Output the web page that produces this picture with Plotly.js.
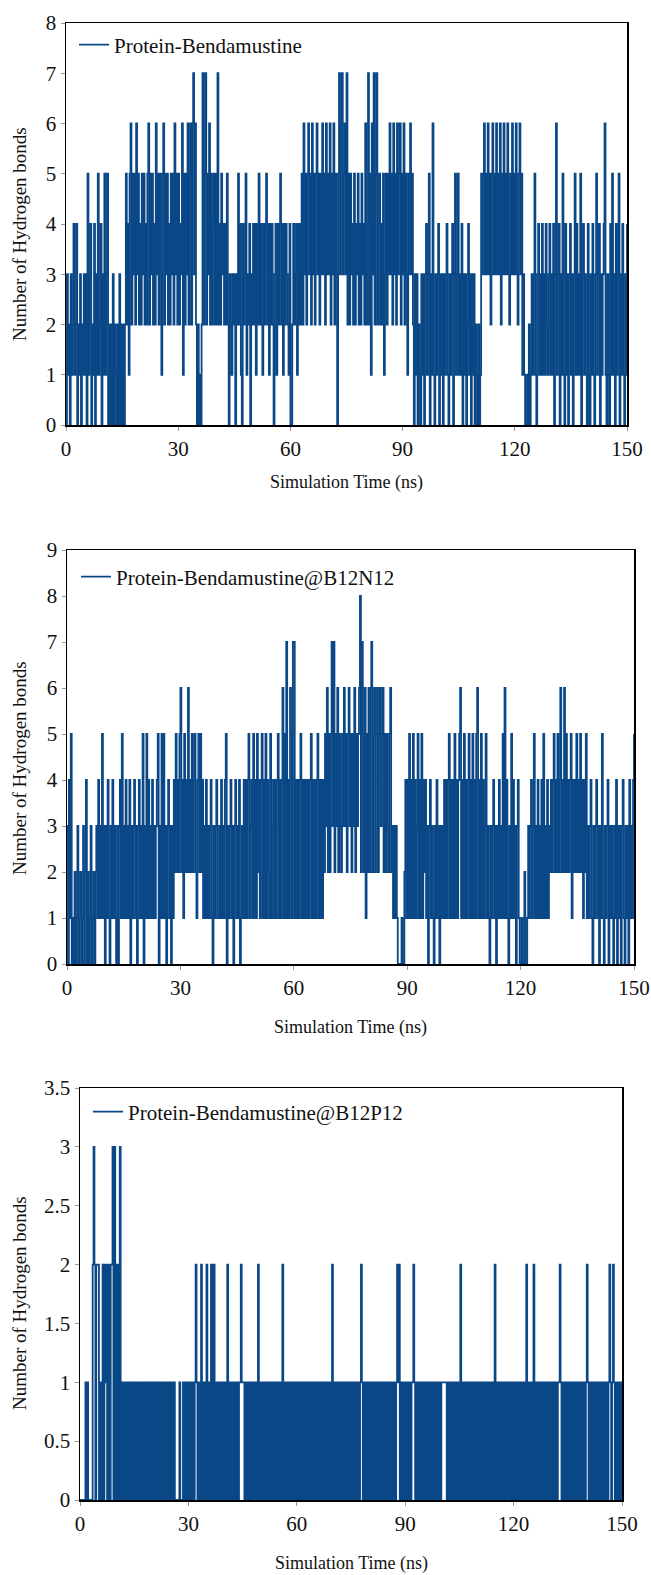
<!DOCTYPE html>
<html>
<head>
<meta charset="utf-8">
<script src="https://cdn.plot.ly/plotly-3.0.1.min.js"></script>
<style>html,body{margin:0;padding:0;background:#fff;}#chart{width:651px;height:1575px;}</style>
</head>
<body>
<div id="chart"></div>
<script>
// Sampling step of the hydrogen-bond trajectories (ns)
const TIME_STEP_NS = 0.25;
const xTickVals = [0, 30, 60, 90, 120, 150];
const seriesNames = ["Protein-Bendamustine", "Protein-Bendamustine@B12N12", "Protein-Bendamustine@B12P12"];

// Panel 1: Protein-Bendamustine (0-49.75 ns, 50-99.75 ns, 100-150 ns)
const hb1_a = [0,3,1,2,0,3,1,2,4,1,2,4,0,2,1,3,0,2,1,3, 1,3,0,5,1,3,4,0,2,1,4,0,3,1,5,1,2,4,0,3, 1,5,1,3,5,0,2,0,2,0,3,0,2,1,0,2,0,3,0,2, 0,2,0,2,5,2,4,1,5,6,2,5,3,5,2,6,3,5,2,4, 2,5,3,5,2,4,2,5,6,2,5,3,5,2,4,2,6,3,5,2,
  5,3,1,5,6,2,5,3,5,2,4,2,5,3,5,2,6,3,5,2, 5,2,4,3,6,1,5,2,5,3,6,2,5,6,2,6,7,3,6,2, 0,2,0,1,0,2,7,2,5,7,2,5,3,6,2,5,2,4,5,2, 5,2,7,2,4,2,5,3,4,2,4,2,5,2,0,3,2,1,3,2, 3,0,3,2,5,2,4,1,0,4,2,3,5,1,3,2,4,0,3,2];
const hb1_b = [4,2,4,1,4,2,5,2,4,2,1,4,2,4,5,2,4,1,4,2, 4,2,0,3,4,1,4,2,4,5,2,4,1,4,2,4,3,2,1,4, 0,0,2,4,2,3,4,1,4,2,4,2,5,2,6,3,5,2,5,6, 3,5,2,6,3,5,2,5,6,3,5,2,5,3,6,3,5,2,6,3, 5,3,6,2,5,3,6,2,5,3,0,5,7,3,6,7,3,5,6,3,
  7,2,5,2,5,3,4,2,5,2,4,3,5,2,4,2,5,3,4,2, 6,2,4,7,2,5,1,6,3,7,2,5,7,2,4,5,2,4,2,5, 1,3,5,2,5,3,6,3,5,2,6,3,5,2,6,3,5,6,2,5, 3,6,2,5,3,1,5,3,6,3,5,2,0,3,1,3,0,2,1,0, 3,1,3,0,3,4,1,3,5,0,3,1,6,1,0,3,1,3,4,0];
const hb1_c = [3,1,3,0,3,1,3,4,1,0,3,1,3,4,0,3,5,1,3,5, 1,3,1,4,0,3,1,3,0,2,4,1,3,0,3,1,3,0,2,1, 0,2,0,1,5,3,5,6,3,5,3,6,3,5,2,5,6,3,5,3, 6,3,5,3,6,2,5,3,6,3,5,3,6,3,2,5,3,6,3,5, 3,6,3,2,5,6,3,5,1,3,1,0,0,1,0,2,0,1,3,1,
  3,5,1,0,3,4,1,3,1,4,1,3,1,4,2,1,3,4,1,3, 1,4,0,3,6,1,3,4,0,3,1,5,1,0,4,1,3,0,3,4, 1,3,0,3,5,1,4,1,3,1,5,0,3,4,1,3,1,0,4,1, 0,3,1,4,1,0,3,5,1,3,4,0,3,1,3,4,6,1,0,3, 1,0,4,1,5,1,3,0,4,1,3,5,0,3,1,4,1,0,3,1, 4];

// Panel 2: Protein-Bendamustine@B12N12
const hb2_a = [3,0,4,1,5,0,1,0,2,0,1,3,0,1,2,0,1,3,0,2, 4,0,2,0,1,3,0,1,2,0,2,3,1,4,1,3,1,5,1,3, 0,3,1,4,1,0,3,1,4,1,3,1,0,3,0,3,4,1,5,1, 3,1,4,1,3,1,4,0,3,1,3,4,1,3,0,3,4,1,3,1, 5,0,3,1,5,1,4,1,3,1,4,1,3,1,3,4,5,0,3,1,
  5,1,5,1,3,0,3,4,1,3,0,3,1,4,2,5,2,4,2,5, 6,2,4,1,5,2,4,2,6,2,4,2,5,2,4,5,2,1,4,5, 2,5,2,4,1,3,1,4,1,3,1,3,4,1,0,3,1,3,4,1, 1,3,1,4,1,3,1,4,5,0,3,1,3,4,1,3,0,3,4,1, 3,1,4,0,1,3,1,4,1,4,1,4,5,1,3,4,1,5,1,4];
const hb2_b = [1,5,2,4,1,4,5,1,4,1,5,1,4,2,1,5,1,3,4,1, 4,1,4,5,1,4,1,4,6,1,5,1,7,1,4,1,6,5,1,7, 7,1,4,1,4,1,4,5,1,4,1,4,1,4,1,4,1,4,5,1, 4,1,4,1,4,5,1,4,1,4,1,4,2,5,3,6,2,5,2,5, 7,3,7,2,5,3,6,2,5,3,2,5,3,6,3,5,2,5,6,3,
  5,2,5,3,6,2,5,3,5,6,8,2,7,5,2,6,1,5,2,6, 2,6,7,2,5,6,2,5,6,2,5,6,3,5,6,2,5,2,5,3, 2,5,6,2,3,1,3,1,3,1,0,0,0,0,1,0,0,2,4,1, 4,1,5,1,4,1,5,1,4,1,3,5,1,4,1,5,1,4,2,4, 1,3,0,3,4,1,3,1,0,3,1,4,1,3,0,3,1,3,1,4];
const hb2_c = [1,4,1,4,5,1,4,1,4,1,5,1,4,1,4,5,6,1,4,1, 5,1,4,1,4,5,1,4,1,5,1,4,1,5,6,1,4,1,5,1, 4,1,3,5,1,3,1,0,3,1,3,4,1,3,0,3,1,4,1,3, 1,5,1,6,1,4,1,0,3,1,5,1,4,1,3,0,3,4,1,0, 0,1,0,0,2,0,0,1,3,1,3,4,1,3,5,1,3,1,4,1,
  3,1,4,1,5,1,3,1,4,1,3,2,4,2,4,5,2,4,2,5, 2,4,6,2,4,2,6,2,5,2,4,2,4,5,1,4,2,4,2,5, 2,4,2,5,2,4,1,4,2,5,1,3,1,3,4,1,0,3,1,3, 4,1,3,0,3,1,5,1,0,3,1,3,4,0,3,1,3,1,0,3, 1,4,0,3,1,3,0,3,4,1,0,3,1,3,0,4,1,3,1,4, 5];

// Panel 3: Protein-Bendamustine@B12P12
const hb3_a = [0,0,0,0,0,0,1,0,1,0,0,0,0,0,2,3,2,0,2,2, 2,0,1,0,0,2,0,2,1,2,0,2,2,0,2,2,3,0,3,2, 0,2,2,0,3,1,0,1,1,0,1,0,1,1,0,1,0,1,1,0, 0,1,0,1,1,0,1,0,0,1,0,1,1,0,1,0,1,0,0,1, 1,0,1,0,1,1,0,1,0,0,1,0,1,0,1,1,0,1,0,1,
  1,0,1,0,1,0,0,0,0,0,1,0,0,0,1,0,1,0,1,0, 1,0,1,1,0,1,0,1,2,1,0,1,1,0,2,1,0,1,1,0, 2,1,0,1,0,2,1,0,2,1,0,1,1,0,1,0,1,0,1,1, 0,1,0,2,1,0,1,1,0,1,0,1,0,1,1,0,1,1,2,1, 1,1,0,1,0,1,1,0,1,0,1,0,1,1,0,1,0,2,1,0];
const hb3_b = [1,0,1,1,0,1,0,1,1,0,1,0,1,0,1,1,0,1,0,1, 1,0,1,0,2,1,0,1,1,0,1,0,1,1,0,1,0,1,0,1, 0,1,1,0,1,0,1,0,1,1,0,1,0,1,1,0,1,0,1,0, 1,1,0,1,0,1,1,0,1,0,1,0,1,1,0,1,0,1,0,2, 1,0,1,1,0,1,0,1,0,1,1,0,1,0,1,0,1,1,0,1,
  0,1,0,1,1,0,1,0,1,0,1,2,1,0,1,1,0,1,0,1, 1,0,1,0,1,1,0,1,0,1,0,1,1,0,1,0,1,1,0,1, 0,1,0,1,1,0,1,0,1,0,1,2,1,2,0,1,1,0,1,0, 1,0,1,1,0,1,0,1,1,2,1,0,1,0,1,1,0,1,0,1, 1,0,1,1,0,1,0,1,0,1,1,0,1,0,1,1,0,1,1,0];
const hb3_c = [1,1,1,1,1,1,0,1,0,1,1,0,1,0,1,1,0,1,0,1, 0,2,1,0,1,0,1,1,0,1,0,1,1,0,1,0,1,1,0,1, 1,0,1,1,0,1,0,1,1,0,1,0,1,1,0,1,0,1,0,2, 1,0,1,1,0,1,0,1,1,0,1,0,1,1,0,1,0,1,1,0, 1,0,1,0,1,1,0,1,0,1,1,0,1,0,2,1,0,1,0,1,
  1,0,2,1,0,1,0,1,1,0,1,0,1,1,0,1,0,1,0,1, 1,0,1,1,0,1,0,1,0,1,1,2,1,0,1,0,1,1,0,1, 0,1,0,1,1,0,1,0,1,1,0,1,0,1,0,1,1,0,1,0, 1,2,1,0,1,0,1,1,0,1,0,1,0,1,1,0,1,0,1,0, 1,0,1,1,0,1,2,1,0,1,2,1,0,1,1,0,1,0,1,0, 1];

const hb1 = hb1_a.concat(hb1_b, hb1_c);
const hb2 = hb2_a.concat(hb2_b, hb2_c);
const hb3 = hb3_a.concat(hb3_b, hb3_c);
const timeOf = arr => arr.map((_, i) => i * TIME_STEP_NS);

const LINE_COLOR = '#0a4787';
const FONT = 'Liberation Serif';

function trace(y, idx) {
  const s = idx === 1 ? '' : String(idx);
  return {
    x: timeOf(y), y: y, type: 'scatter', mode: 'lines',
    name: seriesNames[idx - 1],
    line: {color: LINE_COLOR, width: 1.8, shape: 'hv'},
    xaxis: 'x' + s, yaxis: 'y' + s,
    legend: 'legend' + s
  };
}

const W = 651, H = 1575;
const px = v => v / W;
const py = v => 1 - v / H;

const axisCommon = {
  showgrid: false, zeroline: false, showline: true, mirror: true,
  linecolor: '#000', linewidth: 1.5,
  ticks: 'outside', ticklen: 4, tickcolor: '#999', tickwidth: 1,
  tickfont: {family: FONT, size: 21, color: '#111'}
};
function xa(domain, anchor) {
  return Object.assign({}, axisCommon, {domain: domain, anchor: anchor, range: [0, 150], tickvals: xTickVals, ticktext: xTickVals.map(String)});
}
function ya(domain, anchor, max, dtick) {
  return Object.assign({}, axisCommon, {domain: domain, anchor: anchor, range: [0, max], dtick: dtick, tick0: 0});
}
function leg(x, y) {
  return {x: px(x), y: py(y), xanchor: 'left', yanchor: 'middle', bgcolor: 'rgba(0,0,0,0)', borderwidth: 0,
    itemwidth: 30, font: {family: FONT, size: 21, color: '#111'}};
}

const panels = [
  {x0: 66, x1: 627, y0: 23, y1: 425, xt: 483, yt: 234, lx: 74, ly: 45},
  {x0: 67, x1: 634, y0: 550, y1: 964, xt: 1027, yt: 768, lx: 76, ly: 577},
  {x0: 80, x1: 622, y0: 1088, y1: 1500, xt: 1563, yt: 1303, lx: 88, ly: 1112}
];

const annotations = [];
panels.forEach(p => {
  annotations.push({xref: 'paper', yref: 'paper', x: px((p.x0 + p.x1) / 2), y: py(p.xt), xanchor: 'center', yanchor: 'middle',
    text: 'Simulation Time (ns)', showarrow: false, font: {family: FONT, size: 18, color: '#111'}});
  annotations.push({xref: 'paper', yref: 'paper', x: px(19), y: py(p.yt), xanchor: 'center', yanchor: 'middle', textangle: -90,
    text: 'Number of Hydrogen bonds', showarrow: false, font: {family: FONT, size: 19, color: '#111'}});
});

const layout = {
  width: W, height: H, margin: {l: 0, r: 0, t: 0, b: 0},
  paper_bgcolor: '#fff', plot_bgcolor: '#fff', showlegend: true,
  font: {family: FONT, size: 20, color: '#111'},
  xaxis: xa([px(panels[0].x0), px(panels[0].x1)], 'y'),
  yaxis: ya([py(panels[0].y1), py(panels[0].y0)], 'x', 8, 1),
  xaxis2: xa([px(panels[1].x0), px(panels[1].x1)], 'y2'),
  yaxis2: ya([py(panels[1].y1), py(panels[1].y0)], 'x2', 9, 1),
  xaxis3: xa([px(panels[2].x0), px(panels[2].x1)], 'y3'),
  yaxis3: ya([py(panels[2].y1), py(panels[2].y0)], 'x3', 3.5, 0.5),
  legend: leg(panels[0].lx, panels[0].ly),
  legend2: leg(panels[1].lx, panels[1].ly),
  legend3: leg(panels[2].lx, panels[2].ly),
  annotations: annotations
};

Plotly.newPlot('chart', [trace(hb1, 1), trace(hb2, 2), trace(hb3, 3)], layout, {displayModeBar: false, staticPlot: true});
</script>
</body>
</html>
